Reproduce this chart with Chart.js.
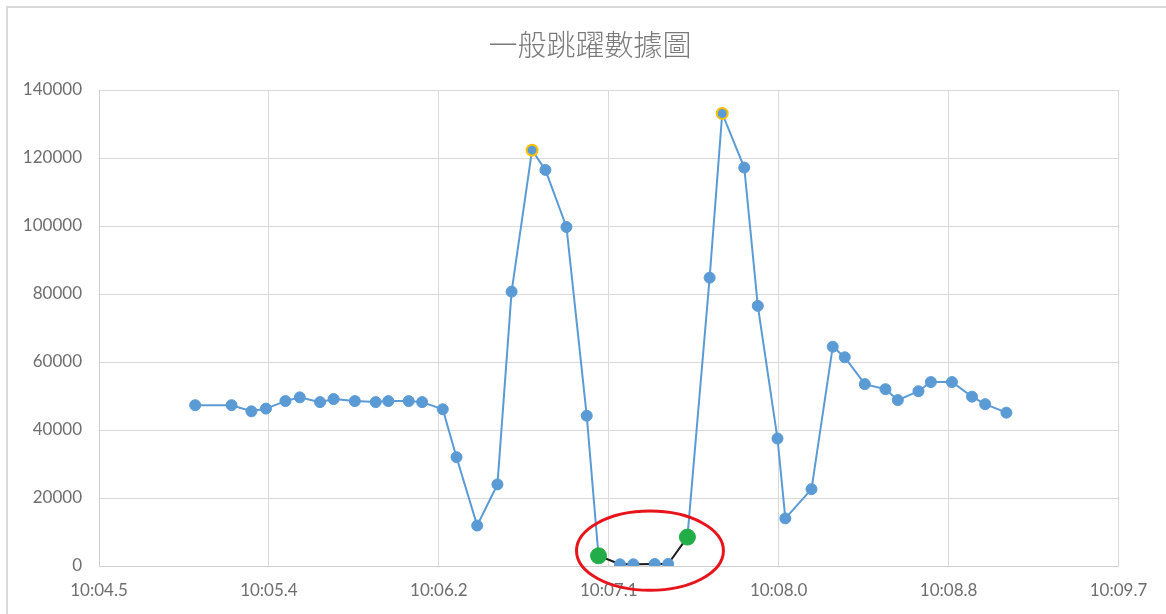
<!DOCTYPE html>
<html>
<head>
<meta charset="utf-8">
<script src="https://cdn.jsdelivr.net/npm/chart.js@4/dist/chart.umd.min.js"></script>
<style>
  html, body { margin: 0; padding: 0; background: #ffffff; }
  #wrap { width: 1166px; height: 614px; position: relative; }
</style>
</head>
<body>
<div id="wrap"><canvas id="jump" width="1166" height="614"></canvas></div>
<script>
// Jump sensor readings: time (seconds past 10:00) and measured value
const jumpTimes = [
  604.989, 605.174, 605.275, 605.349, 605.448, 605.521, 605.624, 605.693,
  605.801, 605.907, 605.971, 606.075, 606.143, 606.248, 606.318, 606.423,
  606.526, 606.598, 606.702, 606.770, 606.877, 606.980, 607.040, 607.149,
  607.217, 607.326, 607.394, 607.492, 607.605, 607.669, 607.781, 607.850,
  607.950, 607.990, 608.123, 608.231, 608.292, 608.394, 608.499, 608.562,
  608.667, 608.730, 608.837, 608.939, 609.006, 609.114
];
const jumpValues = [
  47300, 47300, 45500, 46300, 48500, 49600, 48200, 49100,
  48500, 48200, 48500, 48500, 48200, 46100, 32000, 11900,
  24000, 80700, 122300, 116500, 99700, 44200, 3000, 500,
  500, 600, 600, 8500, 84800, 133100, 117200, 76500,
  37500, 14000, 22600, 64500, 61400, 53500, 52000, 48800,
  51400, 54100, 54100, 49800, 47600, 45100
];

// Highlighted samples: the two peaks, and the airborne stretch between take-off and landing
const peakIndices = [18, 29];
const airStart = 22;
const airEnd = 27;

// Axis ticks
const xTickSeconds = [604.5, 605.364, 606.228, 607.092, 607.956, 608.82, 609.684];
const yTicks = [0, 20000, 40000, 60000, 80000, 100000, 120000, 140000];

const chartTitle = '一般跳躍數據圖';

const BLUE = '#5b9bd5';
const GREEN = '#23ad49';
const GOLD = '#ffc000';

function fmtTime(sec) {
  const m = Math.floor(sec / 60);
  const s = (sec - m * 60).toFixed(1);
  return String(m).padStart(2, '0') + ':' + s.padStart(4, '0');
}

const points = jumpTimes.map((t, i) => ({ x: t, y: jumpValues[i] }));

const isAirEnd = i => i === airStart || i === airEnd;
const pointRadius = jumpValues.map((_, i) => isAirEnd(i) ? 8 : 5.5);
const pointBg = jumpValues.map((_, i) => isAirEnd(i) ? GREEN : BLUE);
const pointBorder = jumpValues.map((_, i) =>
  peakIndices.includes(i) ? GOLD : (isAirEnd(i) ? GREEN : BLUE));
const pointBorderW = jumpValues.map((_, i) => peakIndices.includes(i) ? 2 : 1);

// Outer frame and title
const framePlugin = {
  id: 'frameAndTitle',
  beforeDraw(chart) {
    const ctx = chart.ctx;
    ctx.save();
    ctx.fillStyle = '#ffffff';
    ctx.fillRect(0, 0, chart.width, chart.height);
    ctx.strokeStyle = '#d9d9d9';
    ctx.lineWidth = 2;
    ctx.strokeRect(7, 7, 1166, 620);
    ctx.fillStyle = '#7a7a7a';
    ctx.font = '300 29px "Noto Sans CJK TC"';
    ctx.textAlign = 'center';
    ctx.textBaseline = 'middle';
    ctx.fillText(chartTitle, 590, 45);
    ctx.restore();
  }
};

// Red ring drawn around the airborne stretch
const ringPlugin = {
  id: 'airRing',
  afterDraw(chart) {
    const xs = chart.scales.x, ys = chart.scales.y;
    const x0 = xs.getPixelForValue(jumpTimes[airStart]);
    const x1 = xs.getPixelForValue(jumpTimes[airEnd]);
    let yMin = Infinity, yMax = -Infinity;
    for (let i = airStart; i <= airEnd; i++) {
      const py = ys.getPixelForValue(jumpValues[i]);
      yMin = Math.min(yMin, py); yMax = Math.max(yMax, py);
    }
    const cx = (x0 + x1) / 2 + 7;
    const cy = (yMin + yMax) / 2;
    const rx = (x1 - x0) / 2 + 29;
    const ry = (yMax - yMin) / 2 + 26;
    const ctx = chart.ctx;
    ctx.save();
    ctx.strokeStyle = '#e8141c';
    ctx.lineWidth = 3;
    ctx.beginPath();
    ctx.ellipse(cx, cy, rx, ry, 0, 0, Math.PI * 2);
    ctx.stroke();
    ctx.restore();
  }
};

new Chart(document.getElementById('jump'), {
  type: 'line',
  data: {
    datasets: [{
      label: chartTitle,
      data: points,
      borderColor: BLUE,
      borderWidth: 2,
      pointRadius: pointRadius,
      pointBackgroundColor: pointBg,
      pointBorderColor: pointBorder,
      pointBorderWidth: pointBorderW,
      pointHoverRadius: pointRadius,
      tension: 0,
      segment: {
        borderColor: c => (c.p0DataIndex >= airStart && c.p1DataIndex <= airEnd) ? '#1e1e1e' : BLUE
      }
    }]
  },
  options: {
    responsive: false,
    animation: false,
    layout: { padding: { top: 90, right: 47.5, bottom: 0, left: 0 } },
    plugins: {
      legend: { display: false },
      title: { display: false },
      tooltip: { enabled: false }
    },
    scales: {
      x: {
        type: 'linear',
        min: xTickSeconds[0],
        max: xTickSeconds[xTickSeconds.length - 1],
        afterBuildTicks: s => { s.ticks = xTickSeconds.map(v => ({ value: v })); },
        afterFit: s => { s.height = 48; },
        grid: { color: '#d9d9d9', lineWidth: 1, drawTicks: false },
        border: { color: '#cfcfcf', width: 1 },
        ticks: {
          padding: 14,
          color: '#6e6e6e',
          font: { family: 'Lato', size: 17 },
          maxRotation: 0,
          autoSkip: false,
          callback: v => fmtTime(v)
        }
      },
      y: {
        min: yTicks[0],
        max: yTicks[yTicks.length - 1],
        afterBuildTicks: s => { s.ticks = yTicks.map(v => ({ value: v })); },
        afterFit: s => { s.width = 99; },
        grid: { color: '#d9d9d9', lineWidth: 1, drawTicks: false },
        border: { color: '#cfcfcf', width: 1 },
        ticks: {
          padding: 17,
          color: '#6e6e6e',
          font: { family: 'Lato', size: 17 },
          callback: v => String(v)
        }
      }
    }
  },
  plugins: [framePlugin, ringPlugin]
});
</script>
</body>
</html>
